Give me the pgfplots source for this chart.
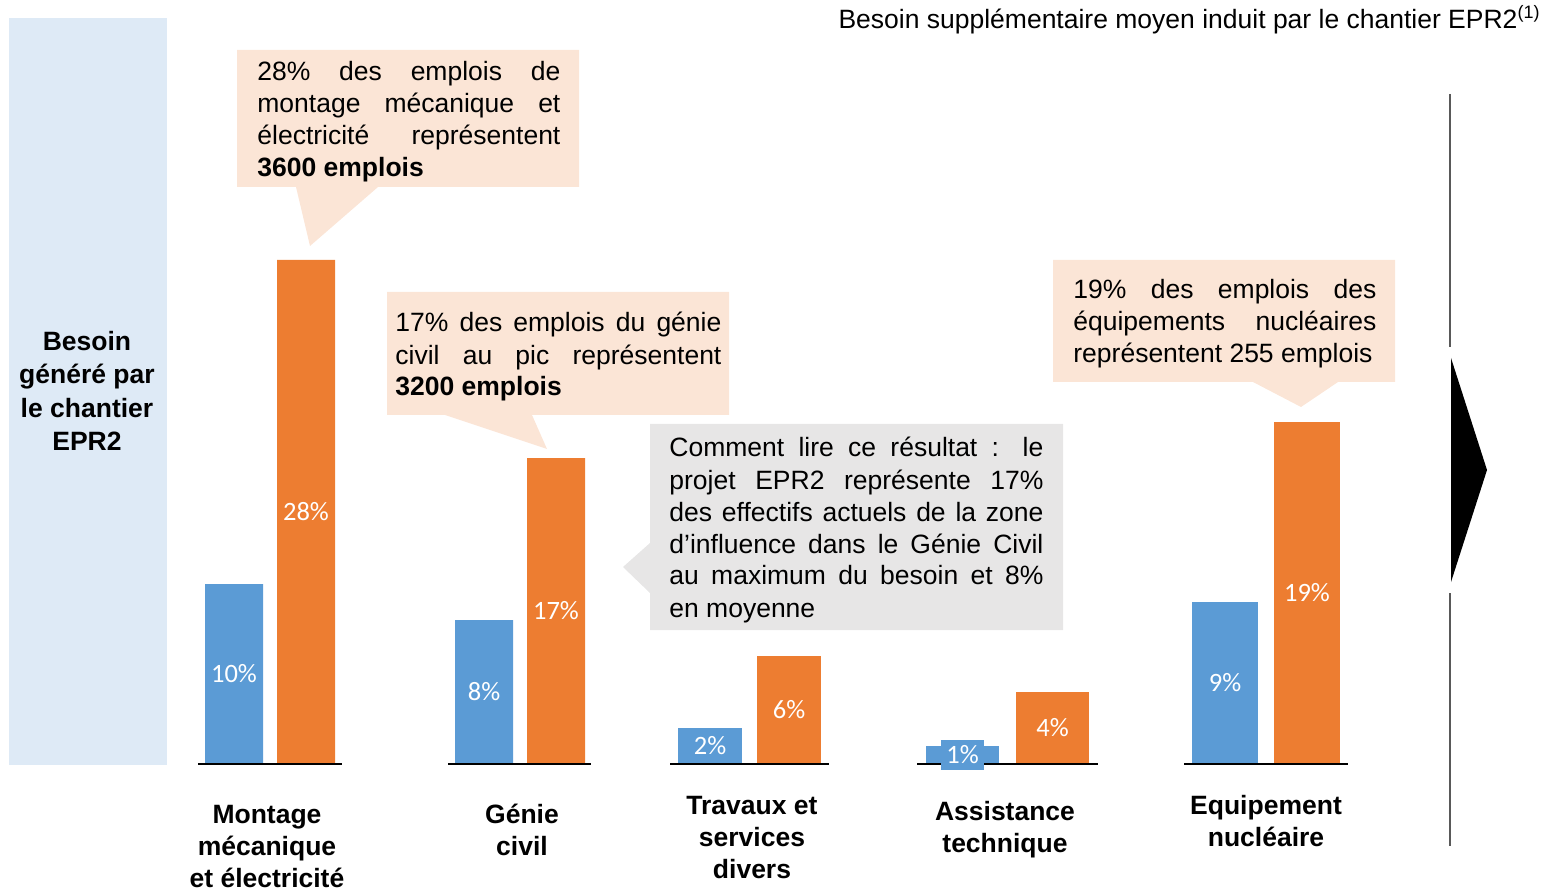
\documentclass[border=0pt]{standalone}
\usepackage{pgfplots}
\pgfplotsset{compat=1.18}
\usepackage{fontspec}
\setmainfont{Liberation Sans}
\newfontfamily\calibri{Carlito}
\definecolor{cblue}{HTML}{5B9BD5}
\definecolor{corange}{HTML}{ED7D31}
\definecolor{lbox}{HTML}{DEEAF6}
\definecolor{peach}{HTML}{FBE5D6}
\definecolor{lgrey}{HTML}{E7E6E6}
\definecolor{dgrey}{HTML}{595959}
\newcommand{\fs}{\fontsize{13.25}{16}\selectfont}
\newcommand{\nohy}{\hyphenpenalty=10000 \exhyphenpenalty=10000 \relax}
\begin{document}
\begin{tikzpicture}
\begin{scope}[x=0.5pt,y=-0.5pt,shift={(0pt,445pt)}]
\useasboundingbox (0,0) rectangle (1547,890);
% left box
\fill[lbox] (9,18) rectangle (167,765);
% bubbles
\fill[peach] (237,50) -- (579,50) -- (579,187) -- (378,187) -- (310,246) -- (296,187) -- (237,187) -- cycle;
\fill[peach] (387,292) -- (729,292) -- (729,415) -- (532,415) -- (547,449) -- (445,415) -- (387,415) -- cycle;
\fill[lgrey] (650,424) -- (1063,424) -- (1063,630) -- (650,630) -- (650,593) -- (623,567) -- (650,543) -- cycle;
\fill[peach] (1053,260) -- (1395,260) -- (1395,382) -- (1338,382) -- (1301,407) -- (1253,382) -- (1053,382) -- cycle;
% right marker
\draw[dgrey,line width=1pt] (1450,94) -- (1450,347);
\draw[dgrey,line width=1pt] (1450,593) -- (1450,846);
\fill[black] (1451,358) -- (1487,470) -- (1451,582) -- cycle;
\end{scope}

\begin{axis}[at={(0,0)},anchor=south west,scale only axis,width=773.5pt,height=445pt,
  xmin=0,xmax=1547,ymin=-7,ymax=42.4444,hide axis,clip=false]
% bars
\addplot[ybar,bar width=58,bar shift=0pt,fill=cblue,draw=none] coordinates {(234,10) (484,8)};
\addplot[ybar,bar width=58,bar shift=0pt,fill=corange,draw=none] coordinates {(306,28) (556,17)};
\addplot[ybar,bar width=64,bar shift=0pt,fill=cblue,draw=none] coordinates {(710,2)};
\addplot[ybar,bar width=64,bar shift=0pt,fill=corange,draw=none] coordinates {(789,6)};
\addplot[ybar,bar width=73,bar shift=0pt,fill=cblue,draw=none] coordinates {(962.5,1)};
\addplot[ybar,bar width=73,bar shift=0pt,fill=corange,draw=none] coordinates {(1052.5,4)};
\addplot[ybar,bar width=66,bar shift=0pt,fill=cblue,draw=none] coordinates {(1225,9)};
\addplot[ybar,bar width=66,bar shift=0pt,fill=corange,draw=none] coordinates {(1307,19)};
% baselines
\addplot[black,line width=1.3pt,mark=none] coordinates {(198,0) (342,0)};
\addplot[black,line width=1.3pt,mark=none] coordinates {(448,0) (591,0)};
\addplot[black,line width=1.3pt,mark=none] coordinates {(670,0) (829,0)};
\addplot[black,line width=1.3pt,mark=none] coordinates {(917,0) (1098,0)};
\addplot[black,line width=1.3pt,mark=none] coordinates {(1184,0) (1348,0)};
% value labels (at half height of each bar)
\addplot[draw=none,mark=none,nodes near coords,point meta=explicit symbolic,
  every node near coord/.append style={anchor=center,text=white,font=\calibri\fs,inner sep=0pt}]
  coordinates {(234,5) [10\%] (306,14) [28\%] (484,4) [8\%] (556,8.5) [17\%]
  (710,1) [2\%] (789,3) [6\%] (1052.5,2) [4\%] (1225,4.5) [9\%] (1307,9.5) [19\%]};
\addplot[draw=none,mark=none,nodes near coords,point meta=explicit symbolic,
  every node near coord/.append style={anchor=center,text=white,font=\calibri\fs,fill=cblue,inner xsep=2.5pt,inner ysep=2.8pt}]
  coordinates {(962.5,0.5) [1\%]};
\end{axis}

\begin{scope}[x=0.5pt,y=-0.5pt,shift={(0pt,445pt)}]
% title
\node[anchor=base east,inner sep=0pt,font=\fs] at (1541,29) {Besoin supplémentaire moyen induit par le chantier EPR2\textsuperscript{\fontsize{9}{9}\selectfont(1)}};
% left box text
\begin{scope}[every node/.style={anchor=base,inner sep=0pt,font=\fs\bfseries}]
\node at (87,351) {Besoin};
\node at (87,384) {généré par};
\node at (87,418) {le chantier};
\node at (87,451) {EPR2};
% category labels
\node at (267,823) {Montage};
\node at (267,855) {mécanique};
\node at (267,887) {et électricité};
\node at (522,823) {Génie};
\node at (522,855) {civil};
\node at (752,814) {Travaux et};
\node at (752,846) {services};
\node at (752,878) {divers};
\node at (1005,820) {Assistance};
\node at (1005,852) {technique};
\node at (1266,814) {Equipement};
\node at (1266,846) {nucléaire};
\end{scope}
% bubble texts
\begin{scope}[every node/.style={anchor=base west,inner sep=0pt,align=justify,font=\fs}]
\node[text width=151.5pt] at (257,81) {\nohy 28\% des emplois de\linebreak montage mécanique et\linebreak électricité représentent\linebreak \textbf{3600 emplois}};
\node[text width=163pt] at (395,332) {\nohy 17\% des emplois du génie\linebreak civil au pic représentent\linebreak \textbf{3200 emplois}};
\node[text width=187pt] at (669,457) {\nohy Comment lire ce résultat : le\linebreak projet EPR2 représente 17\%\linebreak des effectifs actuels de la zone\linebreak d’influence dans le Génie Civil\linebreak au maximum du besoin et 8\%\linebreak en moyenne};
\node[text width=151.5pt] at (1073,299) {\nohy 19\% des emplois des\linebreak équipements nucléaires\linebreak représentent 255 emplois};
\end{scope}
\end{scope}
\end{tikzpicture}
\end{document}
